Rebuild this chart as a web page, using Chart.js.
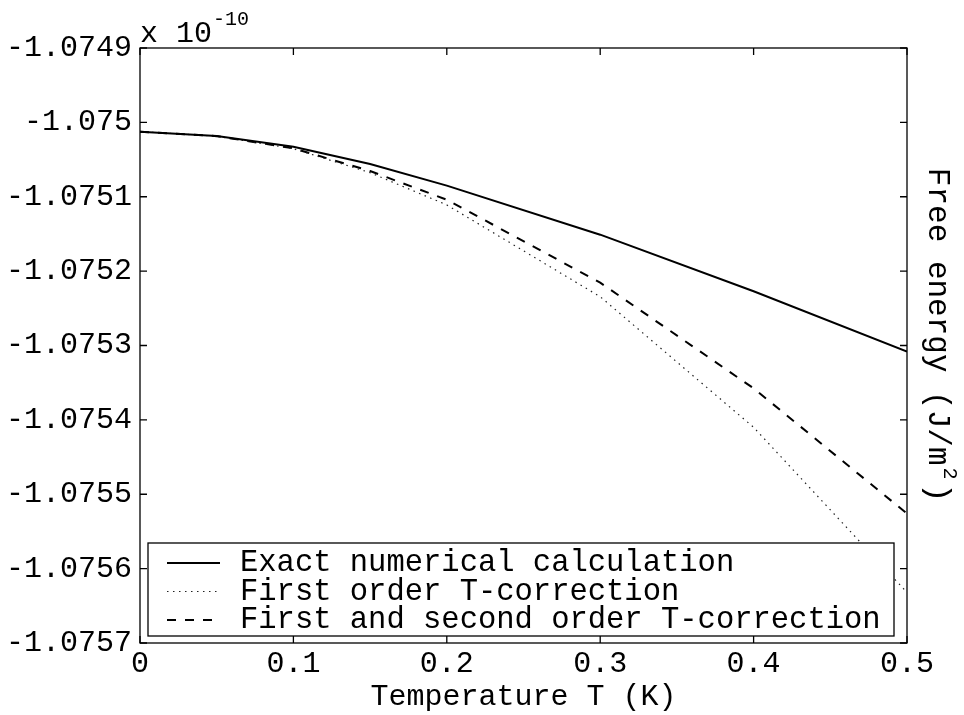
<!DOCTYPE html>
<html>
<head>
<meta charset="utf-8">
<script src="https://cdn.jsdelivr.net/npm/chart.js@4.4.1/dist/chart.umd.min.js"></script>
<style>
  html, body { margin: 0; background: #fff; }
  #wrap { width: 964px; height: 715px; position: relative; }
</style>
</head>
<body>
<div id="wrap"><canvas id="free-energy-chart"></canvas></div>
<script>
// values in units of 1e-10 J/m^2
const temps = [0, 0.05, 0.1, 0.15, 0.2, 0.3, 0.4, 0.5];
const exactVals = [-1.0750125, -1.0750183, -1.0750327, -1.075056, -1.075085, -1.075151, -1.075227, -1.075308];
const firstOrderVals = [-1.0750125, -1.0750185, -1.0750354, -1.0750676, -1.075111, -1.0752344, -1.07541, -1.075632];
const secondOrderVals = [-1.0750125, -1.0750185, -1.0750349, -1.0750654, -1.075104, -1.0752155, -1.0753576, -1.075526];

const seriesNames = ['Exact numerical calculation', 'First order T-correction', 'First and second order T-correction'];

const xTickValues = [0, 0.1, 0.2, 0.3, 0.4, 0.5];
const xTickLabels = ['0', '0.1', '0.2', '0.3', '0.4', '0.5'];
const yTickValues = [-1.0757, -1.0756, -1.0755, -1.0754, -1.0753, -1.0752, -1.0751, -1.075, -1.0749];
const yTickLabels = ['-1.0757', '-1.0756', '-1.0755', '-1.0754', '-1.0753', '-1.0752', '-1.0751', '-1.075', '-1.0749'];

const FONT = '"Liberation Mono", "DejaVu Sans Mono", monospace';

function toPoints(vals) {
  return temps.map((t, i) => ({ x: t, y: vals[i] }));
}

// frame, inward ticks, boxed legend
const framePlugin = {
  id: 'frame',
  afterDatasetsDraw(chart) {
    const { ctx, chartArea: a, scales: { x, y } } = chart;
    ctx.save();

    // legend box
    const bl = a.left + 8, br = a.right - 13, bb = a.bottom - 7, bt = a.bottom - 100;
    ctx.fillStyle = '#fff';
    ctx.fillRect(bl, bt, br - bl, bb - bt);
    ctx.strokeStyle = '#000';
    ctx.lineWidth = 1.3;
    ctx.strokeRect(bl, bt, br - bl, bb - bt);
    ctx.font = '30.5px ' + FONT;
    ctx.textBaseline = 'middle';
    ctx.textAlign = 'left';
    chart.data.datasets.forEach((ds, i) => {
      const ry = bt + 20 + i * 28.5;
      ctx.beginPath();
      ctx.setLineDash(ds.borderDash || []);
      ctx.lineWidth = ds.borderWidth;
      ctx.strokeStyle = ds.borderColor;
      ctx.moveTo(bl + 19, ry);
      ctx.lineTo(bl + 72, ry);
      ctx.stroke();
      ctx.setLineDash([]);
      ctx.fillStyle = '#000';
      ctx.fillText(ds.label, bl + 92, ry);
    });

    // axes box and ticks
    ctx.strokeStyle = '#000';
    ctx.lineWidth = 1.3;
    ctx.strokeRect(a.left, a.top, a.right - a.left, a.bottom - a.top);
    ctx.beginPath();
    x.ticks.forEach(t => {
      const px = x.getPixelForValue(t.value);
      ctx.moveTo(px, a.bottom); ctx.lineTo(px, a.bottom - 7);
      ctx.moveTo(px, a.top); ctx.lineTo(px, a.top + 7);
    });
    y.ticks.forEach(t => {
      const py = y.getPixelForValue(t.value);
      ctx.moveTo(a.left, py); ctx.lineTo(a.left + 7, py);
      ctx.moveTo(a.right, py); ctx.lineTo(a.right - 7, py);
    });
    ctx.stroke();
    ctx.restore();
  },
  afterDraw(chart) {
    const { ctx, chartArea: a } = chart;
    ctx.save();
    ctx.fillStyle = '#000';
    ctx.textAlign = 'left';
    ctx.textBaseline = 'alphabetic';

    // exponent above the y axis
    ctx.font = '30px ' + FONT;
    ctx.fillText('x 10', a.left, a.top - 6);
    const w = ctx.measureText('x 10').width;
    ctx.font = '20px ' + FONT;
    ctx.fillText('-10', a.left + w + 1, a.top - 23);

    // y label on the right, reading top to bottom
    const main = 'Free energy (J/m', sup = '2', tail = ')';
    ctx.font = '31px ' + FONT;
    const w1 = ctx.measureText(main).width;
    const w3 = ctx.measureText(tail).width;
    ctx.font = '20px ' + FONT;
    const w2 = ctx.measureText(sup).width + 6;
    const total = w1 + w2 + w3;
    ctx.translate(929, 335);
    ctx.rotate(Math.PI / 2);
    let sx = -total / 2;
    ctx.font = '31px ' + FONT;
    ctx.fillText(main, sx, 0);
    sx += w1 + 2;
    ctx.font = '20px ' + FONT;
    ctx.fillText(sup, sx, -15);
    sx += w2 - 2;
    ctx.font = '31px ' + FONT;
    ctx.fillText(tail, sx, 0);
    ctx.restore();
  }
};

const ctx = document.getElementById('free-energy-chart').getContext('2d');
const chart = new Chart(ctx, {
  type: 'line',
  data: {
    datasets: [
      {
        label: seriesNames[0],
        data: toPoints(exactVals),
        borderColor: '#000',
        borderWidth: 2,
        borderDash: [],
        pointRadius: 0,
        tension: 0,
        fill: false
      },
      {
        label: seriesNames[1],
        data: toPoints(firstOrderVals),
        borderColor: '#222',
        borderWidth: 1.2,
        borderDash: [1.5, 4.5],
        pointRadius: 0,
        tension: 0,
        fill: false
      },
      {
        label: seriesNames[2],
        data: toPoints(secondOrderVals),
        borderColor: '#000',
        borderWidth: 2,
        borderDash: [9, 9],
        pointRadius: 0,
        tension: 0,
        fill: false
      }
    ]
  },
  options: {
    responsive: true,
    maintainAspectRatio: false,
    animation: false,
    layout: { padding: { top: 48, right: 57, left: 0, bottom: 0 } },
    plugins: {
      legend: { display: false },
      tooltip: { enabled: false }
    },
    scales: {
      x: {
        type: 'linear',
        min: 0,
        max: 0.5,
        afterBuildTicks: scale => { scale.ticks = xTickValues.map(v => ({ value: v })); },
        afterFit: scale => { scale.height = 72; },
        grid: { display: false, drawTicks: false },
        border: { display: false },
        ticks: {
          padding: 3,
          color: '#000',
          font: { family: FONT, size: 30 },
          maxRotation: 0,
          autoSkip: false,
          callback: (val, i) => xTickLabels[i]
        },
        title: {
          display: true,
          text: 'Temperature T (K)',
          color: '#000',
          font: { family: FONT, size: 30 },
          padding: { top: 0, bottom: 0 }
        }
      },
      y: {
        type: 'linear',
        min: -1.0757,
        max: -1.0749,
        afterBuildTicks: scale => { scale.ticks = yTickValues.map(v => ({ value: v })); },
        afterFit: scale => { scale.width = 140; },
        grid: { display: false, drawTicks: false },
        border: { display: false },
        ticks: {
          padding: 8,
          color: '#000',
          font: { family: FONT, size: 30 },
          autoSkip: false,
          callback: (val, i) => yTickLabels[i]
        }
      }
    }
  },
  plugins: [framePlugin]
});
</script>
</body>
</html>
